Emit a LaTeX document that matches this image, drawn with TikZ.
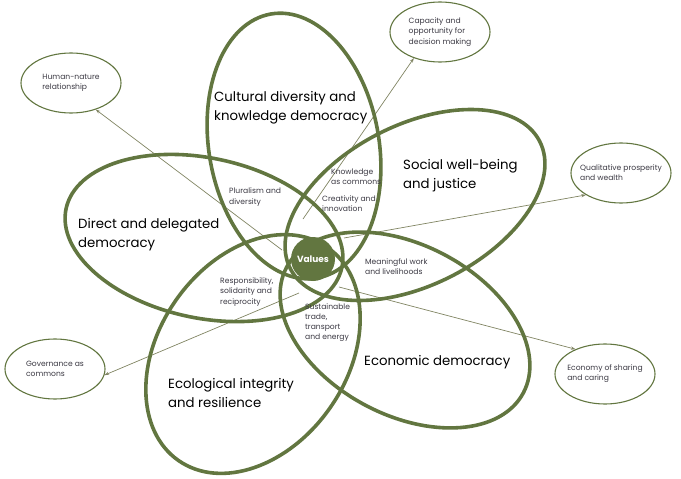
\documentclass[tikz,border=0pt]{standalone}
\usepackage{fontspec}
\setmainfont{Poppins}
\usetikzlibrary{shapes.geometric,arrows.meta}
\definecolor{leafgreen}{RGB}{98,118,64}
\definecolor{linkgreen}{RGB}{128,132,98}
\definecolor{labelgray}{RGB}{58,56,66}
\tikzset{
	petal/.style={draw=leafgreen, line width=3.6pt},
	bigtext/.style={anchor=west, inner sep=0pt, align=left, text=black, font=\fontsize{13.3}{19}\selectfont},
	smalltext/.style={anchor=west, inner sep=0pt, align=left, text=labelgray, font=\fontsize{7.6}{10.2}\selectfont},
	outcome/.style={ellipse, draw=leafgreen, line width=1.1pt, minimum width=100pt, minimum height=60pt, inner sep=0pt},
	outtext/.style={align=left, inner sep=0pt, text=labelgray, font=\fontsize{7.6}{10.2}\selectfont},
	link/.style={draw=linkgreen, line width=0.7pt, -{Stealth[length=4.5pt,width=3.2pt]}}
}

\begin{document}
\begin{tikzpicture}[x=1pt, y=-1pt]
		%%%%% START %%%%%
		\useasboundingbox (0, 0) rectangle (681, 479);
		
		\node[outcome, label={[outtext]center:{Human-nature\\relationship}}] (hn) at (71, 83) {};
		\node[outcome, label={[outtext]center:{Capacity and\\opportunity for\\decision making}}] (cap) at (440, 32) {};
		\node[outcome, label={[outtext]center:{Qualitative prosperity\\and wealth}}] (qual) at (621, 173) {};
		\node[outcome, label={[outtext]center:{Economy of sharing\\and caring}}] (econ) at (605, 374) {};
		\node[outcome, label={[outtext]center:{Governance as\\commons}}] (gov) at (55, 369) {};
		
		\coordinate (hnS) at (282, 250);
		\coordinate (capS) at (303, 219);
		\coordinate (qualS) at (344, 238);
		\coordinate (econS) at (339, 287);
		\coordinate (govS) at (299, 293);
		
		\draw[link] (hnS) -- (hn.313);
		\draw[link] (capS) -- (cap.225);
		\draw[link] (qualS) -- (qual.212);
		\draw[link] (econS) -- (econ.140);
		\draw[link] (govS) -- (gov.353);
		
		% petals
		\draw[petal, rotate around={10:(294, 146)}] (294, 146) ellipse (85 and 134);
		\draw[petal, rotate around={27:(415, 205)}] (415, 205) ellipse (140 and 80);
		\draw[petal, rotate around={-28:(405, 330)}] (405, 330) ellipse (134 and 85);
		\draw[petal, rotate around={55:(253, 354)}] (253, 354) ellipse (130 and 94);
		\draw[petal, rotate around={-12:(204, 238)}] (204, 238) ellipse (141 and 80);
		
		\node[circle, fill=leafgreen, minimum size=44pt, inner sep=0pt, text=white, font=\fontsize{9}{10}\selectfont\bfseries] (values) at (313, 259) {Values};
		
		\node[bigtext] (cultural) at (214, 108) {Cultural diversity and\\knowledge democracy};
		\node[bigtext] (social) at (403, 176) {Social well-being\\and justice};
		\node[bigtext] (direct) at (78, 235) {Direct and delegated\\democracy};
		\node[bigtext] (ecological) at (168, 393) {Ecological integrity\\and resilience};
		\node[bigtext] (economic) at (364, 362) {Economic democracy};
		
		\node[smalltext] (pluralism) at (229, 197) {Pluralism and\\diversity};
		\node[smalltext] (knowledge) at (331, 177) {Knowledge\\as commons};
		\node[smalltext] (creativity) at (322, 203.5) {Creativity and\\innovation};
		\node[smalltext] (meaningful) at (365, 266.5) {Meaningful work\\and livelihoods};
		\node[smalltext] (responsibility) at (220, 292) {Responsibility,\\solidarity and\\reciprocity};
		\node[smalltext] (sustainable) at (305, 322.5) {Sustainable\\trade,\\transport\\and energy};
		
		%%%%% END %%%%%
	\end{tikzpicture}
\end{document}
